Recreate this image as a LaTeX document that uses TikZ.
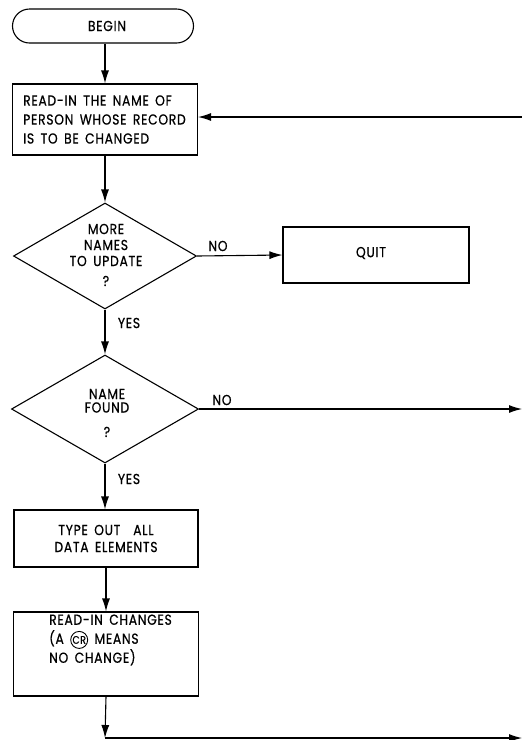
\documentclass[tikz,border=0pt]{standalone}
\usepackage{fontspec}
\setmainfont{Poppins}[LetterSpace=5,WordSpace=1.6,FakeBold=0.6,FakeStretch=0.85]
\usetikzlibrary{shapes.geometric,arrows.meta}
\newcommand{\crmark}{\tikz[baseline=(crc.base)]\node[draw,circle,inner sep=0pt,minimum size=17pt,line width=0.9pt,font=\fontsize{11}{11}\selectfont](crc){CR};}
\tikzset{
  box/.style={draw,line width=1.1pt,rectangle,inner sep=0pt},
  deci/.style={draw,line width=1.1pt,diamond,inner sep=0pt},
  term/.style={draw,line width=1.1pt,rectangle,rounded corners=17pt,inner sep=0pt},
  txt/.style={font=\fontsize{14.5}{19}\selectfont,inner sep=0pt},
  lbl/.style={font=\fontsize{14.5}{13}\selectfont,inner sep=0pt},
  arr/.style={line width=1.1pt,-{Latex[length=13pt,width=8pt]}},
  ln/.style={line width=1.1pt}
}
\begin{document}
\begin{tikzpicture}[x=1pt,y=-1pt]
\useasboundingbox (0,0) rectangle (522,740);
\node[term,minimum width=181pt,minimum height=34pt] (begin) at (103,26) {};
\node[txt] (begint) at (107,26) {BEGIN};
\node[box,minimum width=185pt,minimum height=71pt] (read1) at (105,119.5) {};
\node[txt,align=left,anchor=west] (read1t) at (23,119.5) {READ-IN THE NAME OF\\PERSON WHOSE RECORD\\IS TO BE CHANGED};
\node[deci,minimum width=183pt,minimum height=106pt] (dec1) at (105,256) {};
\node[txt,align=center,font=\fontsize{14.5}{16}\selectfont] (dec1t) at (106,255) {MORE\\NAMES\\TO UPDATE\\[4pt]?};
\node[box,minimum width=186pt,minimum height=56pt] (quit) at (376,255) {};
\node[txt] (quitt) at (371,253) {QUIT};
\node[deci,minimum width=187pt,minimum height=108pt] (dec2) at (105,409) {};
\node[txt,align=center,font=\fontsize{14.5}{13.5}\selectfont] (dec2t) at (107,413) {NAME\\FOUND\\[11pt]?};
\node[box,minimum width=184pt,minimum height=57pt] (type) at (106,538.5) {};
\node[txt,align=center,font=\fontsize{14.5}{17}\selectfont] (typet) at (106,538.5) {TYPE OUT\ \ ALL\\DATA ELEMENTS};
\node[box,minimum width=185pt,minimum height=84pt] (read2) at (106,654) {};
\node[txt,align=left,anchor=west] (read2t) at (49,640) {READ-IN CHANGES\\(A \crmark\ MEANS\\NO CHANGE)};
\coordinate (inr) at (522,117);
\coordinate (outr) at (522,409);
\coordinate (bot) at (105,738);
\coordinate (botr) at (522,738);
\draw[arr] (begin.south -| read1.north) -- (read1.north);
\draw[arr] (inr) -- (inr -| read1.east);
\draw[arr] (read1.south) -- (dec1.north);
\draw[arr] (dec1.east) -- (quit.west);
\draw[arr] (dec1.south) -- (dec2.north);
\draw[arr] (dec2.east) -- (outr);
\draw[arr] (dec2.south) -- (dec2.south |- type.north);
\draw[arr] (type.south -| read2.north) -- (read2.north);
\draw[arr] (read2.south) -- (bot);
\draw[arr] (bot) -- (botr);
\node[lbl] (no1) at (218,246) {NO};
\node[lbl] (yes1) at (129,323) {YES};
\node[lbl] (no2) at (222,400) {NO};
\node[lbl] (yes2) at (129,479) {YES};
\end{tikzpicture}
\end{document}
